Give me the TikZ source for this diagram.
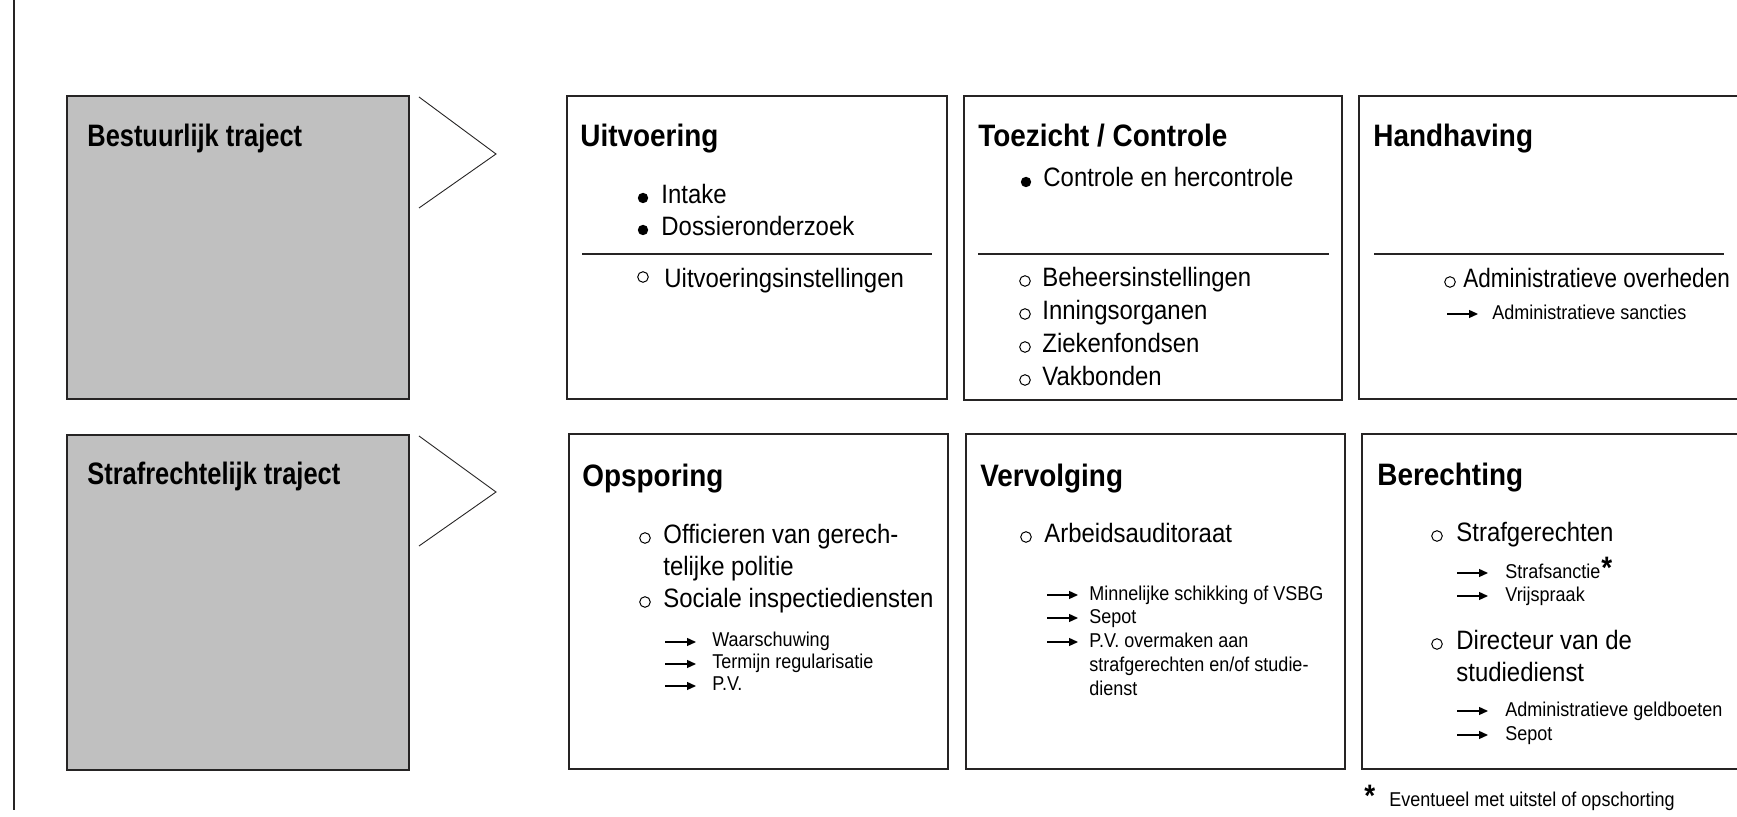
\documentclass[tikz,border=0pt]{standalone}
\usepackage{graphicx}
\usepackage{fontspec}
\setmainfont[FakeStretch=0.9]{Liberation Sans}
\newfontfamily\grayfont[FakeStretch=0.82]{Liberation Sans}
\usetikzlibrary{arrows.meta}
\definecolor{boxline}{HTML}{262424}
\definecolor{boxgray}{HTML}{C0C0C0}
\newcommand\harr[2]{\draw[line width=0.65pt,-{Triangle[length=4.5pt,width=4pt]}] (#1,#2) -- ++(31,0);}
\newcommand\bulf[2]{\fill (#1,#2) circle (5.2);}
\newcommand\bulo[2]{\draw[line width=0.5pt] (#1,#2) circle (5.3);}
\begin{document}
\begin{tikzpicture}[x=0.5pt,y=-0.5pt,
  box/.style={draw=boxline,line width=1.2pt},
  graybox/.style={box,fill=boxgray},
  tri/.style={draw=boxline,line width=0.45pt},
  sepline/.style={draw=boxline,line width=0.55pt},
  ttl/.style={anchor=base west,inner sep=0,font=\fontsize{15.5}{18}\selectfont\bfseries},
  gttl/.style={anchor=base west,inner sep=0,font=\grayfont\fontsize{15.5}{18}\selectfont\bfseries},
  itm/.style={anchor=base west,inner sep=0,font=\fontsize{13.3}{16}\selectfont},
  sml/.style={anchor=base west,inner sep=0,font=\fontsize{10}{12}\selectfont},
  bigast/.style={anchor=base west,inner sep=0,font=\fontsize{15.5}{18}\selectfont\bfseries}]
\useasboundingbox (0,0) rectangle (1737,817);
\clip (0,0) rectangle (1737,817);

% left rule
\draw[boxline,line width=1pt] (14,0) -- (14,810);

% row 1
\draw[graybox] (67,96) rectangle (409,399);
\draw[tri] (419,97) -- (496,154) -- (419,208);
\draw[box] (567,96) rectangle (947,399);
\draw[box] (964,96) rectangle (1342,400);
\draw[box] (1359,96) rectangle (1760,399);

% row 2
\draw[graybox] (67,435) rectangle (409,770);
\draw[tri] (419,436) -- (496,492) -- (419,546);
\draw[box] (569,434) rectangle (948,769);
\draw[box] (966,434) rectangle (1345,769);
\draw[box] (1362,434) rectangle (1760,769);

% separators
\draw[sepline] (582,254) -- (932,254);
\draw[sepline] (978,254) -- (1329,254);
\draw[sepline] (1374,254) -- (1724,254);

% gray labels
\node[gttl] (g1) at (87,147) {Bestuurlijk traject};
\node[gttl] (g2) at (87,485) {Strafrechtelijk traject};

% titles
\node[ttl] (t11) at (580,147) {Uitvoering};
\node[ttl] (t12) at (978,147) {Toezicht / Controle};
\node[ttl] (t13) at (1373,147) {Handhaving};
\node[ttl] (t21) at (582,487) {Opsporing};
\node[ttl] (t22) at (980,487) {Vervolging};
\node[ttl] (t23) at (1377,486) {Berechting};

% Uitvoering
\bulf{643}{198}
\node[itm] (u1) at (661,204) {Intake};
\bulf{643}{230}
\node[itm] (u2) at (661,236) {Dossieronderzoek};
\bulo{643}{277}
\node[itm] (u3) at (664,288) {Uitvoeringsinstellingen};

% Toezicht
\bulf{1026}{182}
\node[itm] (c1) at (1043,187) {Controle en hercontrole};
\bulo{1025}{281}
\node[itm] (c2) at (1042,287) {Beheersinstellingen};
\bulo{1025}{314}
\node[itm] (c3) at (1042,320) {Inningsorganen};
\bulo{1025}{347}
\node[itm] (c4) at (1042,353) {Ziekenfondsen};
\bulo{1025}{380}
\node[itm] (c5) at (1042,386) {Vakbonden};

% Handhaving
\bulo{1450}{282}
\node[itm] (h1) at (1463,288) {\scalebox{0.94}[1]{Administratieve overheden}};
\harr{1447}{314}
\node[sml] (h2) at (1492,320) {Administratieve sancties};

% Opsporing
\bulo{645}{538}
\node[itm] (o1) at (663,544) {Officieren van gerech-};
\node[itm] (o2) at (663,576) {telijke politie};
\bulo{645}{602}
\node[itm] (o3) at (663,608) {Sociale inspectiediensten};
\harr{665}{642}
\node[sml] (o4) at (712,647) {Waarschuwing};
\harr{665}{664}
\node[sml] (o5) at (712,669) {Termijn regularisatie};
\harr{665}{686}
\node[sml] (o6) at (712,691) {P.V.};

% Vervolging
\bulo{1026}{537}
\node[itm] (v1) at (1044,543) {Arbeidsauditoraat};
\harr{1047}{595}
\node[sml] (v2) at (1089,601) {Minnelijke schikking of VSBG};
\harr{1047}{618}
\node[sml] (v3) at (1089,624) {Sepot};
\harr{1047}{642}
\node[sml] (v4) at (1089,648) {P.V. overmaken aan};
\node[sml] (v5) at (1089,672) {strafgerechten en/of studie-};
\node[sml] (v6) at (1089,696) {dienst};

% Berechting
\bulo{1437}{536}
\node[itm] (b1) at (1456,542) {Strafgerechten};
\harr{1457}{573}
\node[sml] (b2) at (1505,579) {Strafsanctie};
\node[bigast] (b2s) at (b2.base east) {*};
\harr{1457}{596}
\node[sml] (b3) at (1505,602) {Vrijspraak};
\bulo{1437}{644}
\node[itm] (b4) at (1456,650) {Directeur van de};
\node[itm] (b5) at (1456,682) {studiedienst};
\harr{1457}{711}
\node[sml] (b6) at (1505,717) {Administratieve geldboeten};
\harr{1457}{735}
\node[sml] (b7) at (1505,741) {Sepot};

% footnote
\node[bigast] (fs) at (1364,807) {*};
\node[sml] (ft) at (1389,807) {Eventueel met uitstel of opschorting};
\end{tikzpicture}
\end{document}
